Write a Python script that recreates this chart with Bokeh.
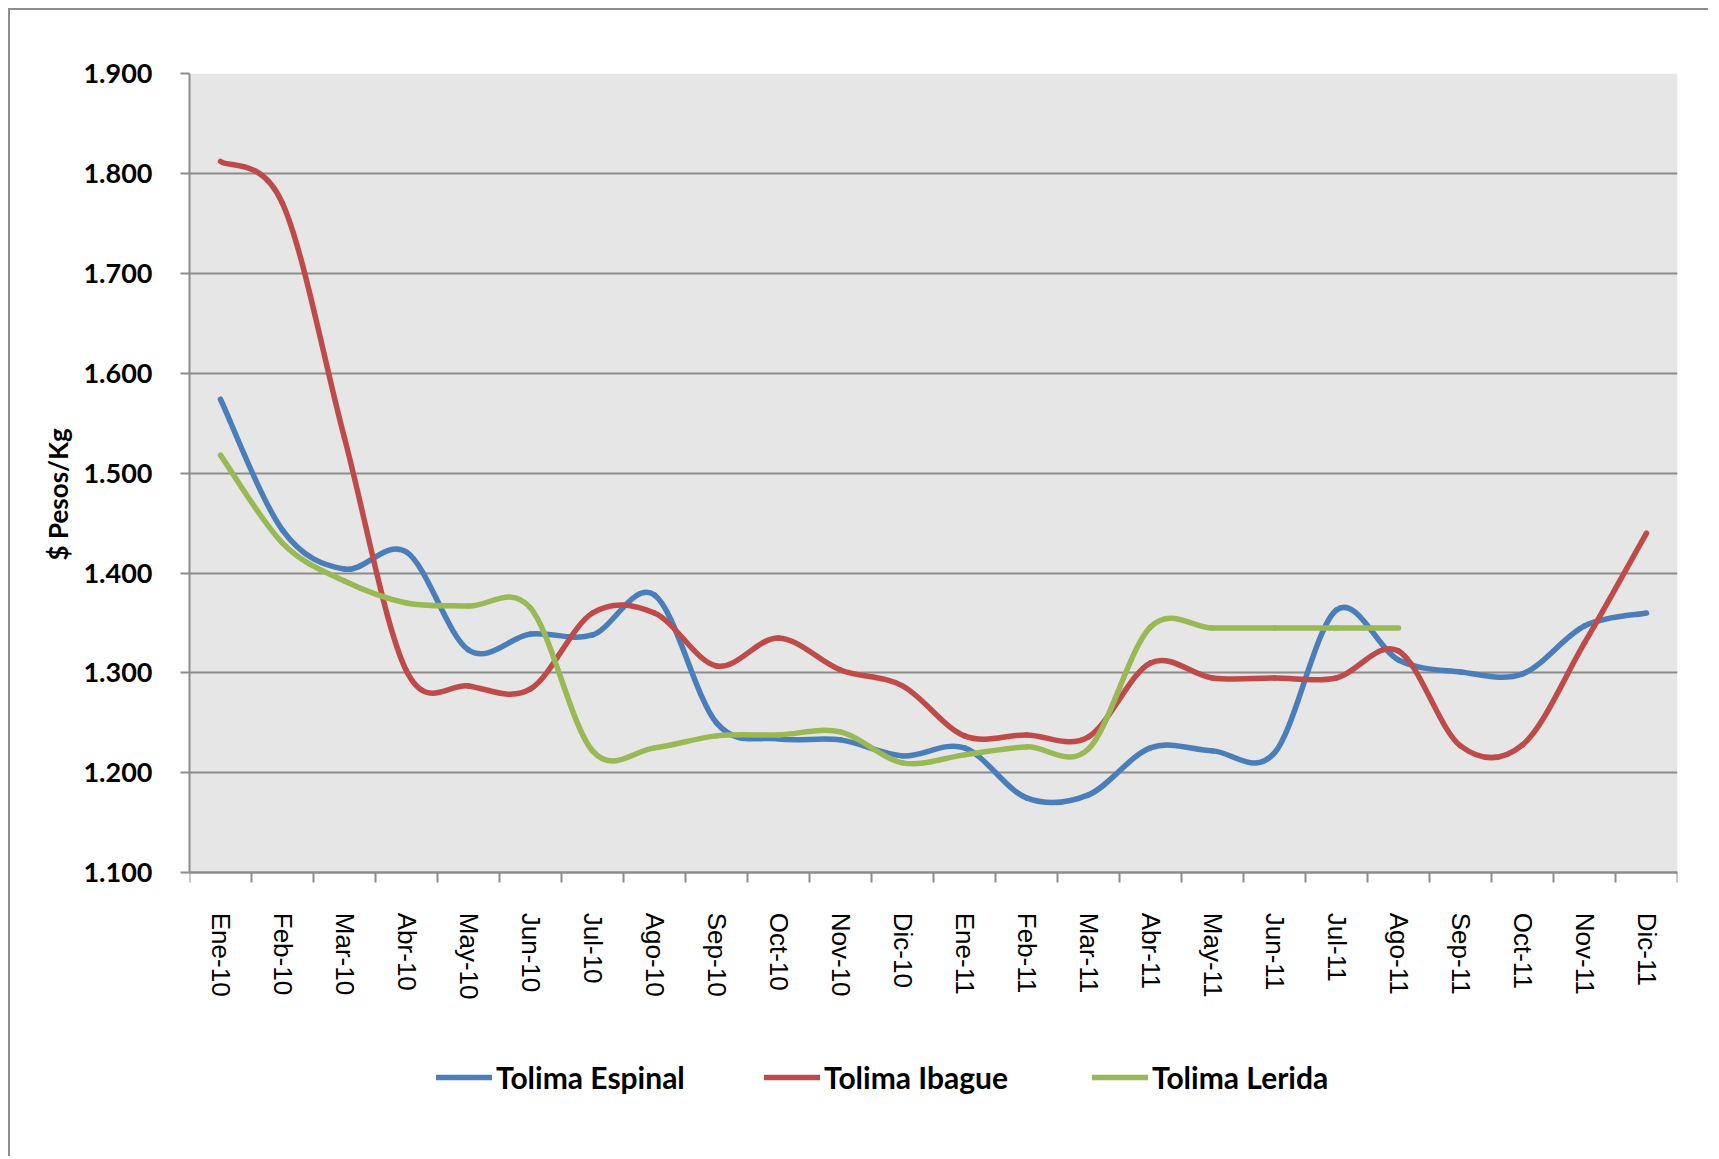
from bokeh.plotting import figure
from bokeh.models import (Range1d, FixedTicker, Legend, LegendItem, ColumnDataSource,
                          LinearAxis, BoxAnnotation, Title)
from bokeh.embed import file_html
from bokeh.resources import INLINE

months = ["Ene-10", "Feb-10", "Mar-10", "Abr-10", "May-10", "Jun-10", "Jul-10", "Ago-10",
          "Sep-10", "Oct-10", "Nov-10", "Dic-10", "Ene-11", "Feb-11", "Mar-11", "Abr-11",
          "May-11", "Jun-11", "Jul-11", "Ago-11", "Sep-11", "Oct-11", "Nov-11", "Dic-11"]

espinal = [1574, 1443, 1404, 1421, 1323, 1339, 1338, 1378, 1250, 1234, 1233, 1217,
           1225, 1175, 1178, 1225, 1222, 1220, 1363, 1313, 1301, 1299, 1347, 1360]
ibague = [1812, 1770, 1535, 1302, 1287, 1284, 1360, 1360, 1307, 1335, 1303, 1287,
          1237, 1238, 1236, 1310, 1295, 1295, 1295, 1322, 1227, 1228, 1330, 1440]
lerida = [1518, 1430, 1392, 1370, 1367, 1365, 1222, 1225, 1237, 1238, 1241, 1210,
          1218, 1226, 1224, 1346, 1345, 1345, 1345, 1345]

series_names = ["Tolima Espinal", "Tolima Ibague", "Tolima Lerida"]
series_colors = ["#4a7ebb", "#be4b48", "#98b954"]

y_ticks = [1100, 1200, 1300, 1400, 1500, 1600, 1700, 1800, 1900]
y_tick_labels = ["1.100", "1.200", "1.300", "1.400", "1.500", "1.600", "1.700", "1.800", "1.900"]

GRAY = "#8c8c8c"
Y_LOW_VIEW = 814  # view extends below the plot area to make room for labels and legend


def smooth_source(vals):
    # Excel-like smoothed line: cubic Bezier segments through the data points
    n = len(vals)
    d = dict(x0=[], y0=[], x1=[], y1=[], cx0=[], cy0=[], cx1=[], cy1=[])
    for k in range(n - 1):
        ia = k - 1 if k > 0 else k
        ib = k + 2 if k + 2 < n else k + 1
        d["x0"].append(k)
        d["y0"].append(vals[k])
        d["x1"].append(k + 1)
        d["y1"].append(vals[k + 1])
        d["cx0"].append(k + (k + 1 - ia) / 6)
        d["cy0"].append(vals[k] + (vals[k + 1] - vals[ia]) / 6)
        d["cx1"].append(k + 1 - (ib - k) / 6)
        d["cy1"].append(vals[k + 1] - (vals[ib] - vals[k]) / 6)
    return ColumnDataSource(d)


p = figure(width=1700, height=1148, output_backend="svg", toolbar_location=None,
           x_range=Range1d(-0.5, len(months) - 0.5), y_range=Range1d(Y_LOW_VIEW, y_ticks[-1]),
           x_axis_location=None,
           min_border_left=179, min_border_right=33, min_border_top=63, min_border_bottom=0)
p.styles = {"border-left": "2px solid #8c8c8c", "border-top": "2px solid #8c8c8c",
            "margin-left": "8px", "margin-top": "8px"}
p.background_fill_color = "white"
p.border_fill_color = "white"
p.outline_line_color = None

# gray plot area
p.add_layout(BoxAnnotation(bottom=y_ticks[0], fill_color="#e6e6e6", fill_alpha=1,
                           line_color=None, level="image"))

# x axis fixed at the bottom of the plot area
xaxis = LinearAxis(fixed_location=y_ticks[0])
xaxis.ticker = FixedTicker(ticks=list(range(len(months))),
                           minor_ticks=[i - 0.5 for i in range(len(months) + 1)])
xaxis.major_label_overrides = {i: m for i, m in enumerate(months)}
xaxis.major_tick_out = 0
xaxis.major_tick_in = 0
xaxis.minor_tick_out = 10
xaxis.minor_tick_in = 0
xaxis.minor_tick_line_color = GRAY
xaxis.minor_tick_line_width = 2
xaxis.major_label_orientation = "vertical"
xaxis.major_label_standoff = 30
xaxis.major_label_text_font = "Liberation Sans"
xaxis.major_label_text_font_size = "26px"
xaxis.major_label_text_color = "black"
xaxis.axis_line_color = GRAY
xaxis.axis_line_width = 2
p.add_layout(xaxis, "below")

# y axis
p.yaxis.ticker = FixedTicker(ticks=y_ticks)
p.yaxis.bounds = (y_ticks[0], y_ticks[-1])
p.yaxis.major_label_overrides = {t: l for t, l in zip(y_ticks, y_tick_labels)}
p.yaxis.major_tick_out = 9
p.yaxis.major_tick_in = 0
p.yaxis.major_tick_line_color = GRAY
p.yaxis.major_tick_line_width = 2
p.yaxis.minor_tick_line_color = None
p.yaxis.major_label_standoff = 28
p.yaxis.major_label_text_font = "Lato"
p.yaxis.major_label_text_font_style = "bold"
p.yaxis.major_label_text_font_size = "27px"
p.yaxis.major_label_text_color = "black"
p.yaxis.axis_line_color = GRAY
p.yaxis.axis_line_width = 2

p.add_layout(Title(text="$ Pesos/Kg", align="left", offset=598, text_font="Lato",
                   text_font_style="bold", text_font_size="26px", text_color="black",
                   standoff=14), "left")

p.xgrid.visible = False
p.ygrid.ticker = FixedTicker(ticks=y_ticks)
p.ygrid.grid_line_color = GRAY
p.ygrid.grid_line_width = 2

items = []
for name, color, vals in zip(series_names, series_colors, [espinal, ibague, lerida]):
    src = smooth_source(vals)
    r = p.bezier(x0="x0", y0="y0", x1="x1", y1="y1", cx0="cx0", cy0="cy0",
                 cx1="cx1", cy1="cy1", source=src, line_color=color,
                 line_width=5.5, line_cap="round")
    items.append(LegendItem(label=name, renderers=[r], index=0))

legend = Legend(items=items, orientation="horizontal", location=(247, 63),
                glyph_width=56, glyph_height=30, label_height=30, label_standoff=4,
                label_width=268, spacing=0, padding=0, margin=0,
                border_line_color=None, background_fill_alpha=0,
                label_text_font="Lato", label_text_font_style="bold",
                label_text_font_size="30px", label_text_color="black")
p.add_layout(legend, "center")

open("out.html", "w").write(file_html(p, INLINE))
